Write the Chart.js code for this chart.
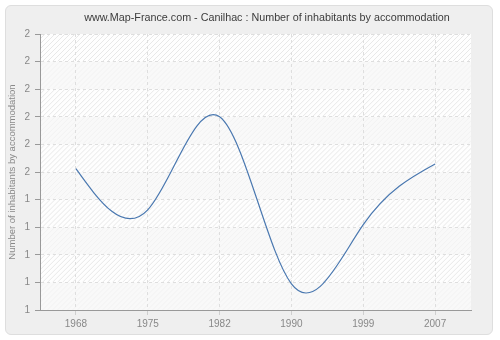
<!DOCTYPE html>
<html>
<head>
<meta charset="utf-8">
<script src="https://cdn.jsdelivr.net/npm/chart.js@4"></script>
<style>
  body { margin: 0; background: #fff; }
  #wrap { position: relative; width: 500px; height: 340px; }
  #panel { position: absolute; left: 5px; top: 5px; width: 486px; height: 328px;
    background: #efefef; border: 1px solid #dedede; border-radius: 6px; }
  #chart { position: absolute; left: 0; top: 0; }
</style>
</head>
<body>
<div id="wrap">
  <div id="panel"></div>
  <canvas id="chart" width="500" height="340"></canvas>
</div>
<script>
const years = ['1968', '1975', '1982', '1990', '1999', '2007']
const inhabitants = [1.512, 1.363, 1.70, 1.095, 1.309, 1.529]
const yMin = 1
const yMax = 2
const yStep = 0.1
const titleText = 'www.Map-France.com - Canilhac : Number of inhabitants by accommodation'

/* fond de la zone du graphique : bandes hachurées / unies */
const plotBackground = {
  id: 'plotBackground',
  beforeDraw(chart) {
    const { ctx, chartArea: a, scales } = chart
    ctx.save()
    ctx.fillStyle = '#fefefe'
    ctx.fillRect(a.left, a.top, a.right - a.left, a.bottom - a.top)
    const n = Math.round((yMax - yMin) / yStep)
    for (let i = 0; i < n; i++) {
      const y1 = scales.y.getPixelForValue(yMax - i * yStep)
      const y2 = scales.y.getPixelForValue(yMax - (i + 1) * yStep)
      ctx.save()
      ctx.beginPath()
      ctx.rect(a.left, y1, a.right - a.left, y2 - y1)
      ctx.clip()
      if (i % 2 === 1) {
        ctx.fillStyle = '#f9f9f9'
        ctx.fillRect(a.left, y1, a.right - a.left, y2 - y1)
      }
      ctx.strokeStyle = i % 2 === 0 ? '#e8e8e8' : '#f2f2f2'
      ctx.lineWidth = 1
      ctx.beginPath()
      const h = y2 - y1
      for (let x = a.left - h; x < a.right + h; x += 5) {
        ctx.moveTo(x, y2)
        ctx.lineTo(x + h, y1)
      }
      ctx.stroke()
      ctx.restore()
    }
    ctx.restore()
  }
}

/* spline naturelle : on remplace les points de contrôle calculés par Chart.js */
const naturalSpline = {
  id: 'naturalSpline',
  beforeDatasetsDraw(chart) {
    chart.data.datasets.forEach((ds, di) => {
      const meta = chart.getDatasetMeta(di)
      const line = meta.dataset
      const pts = meta.data
      const n = pts.length
      if (n < 3) return
      line.updateControlPoints(chart.chartArea, 'x')
      const h = []
      for (let i = 0; i < n - 1; i++) h.push(pts[i + 1].x - pts[i].x)
      // système tridiagonal pour les dérivées secondes
      const a = [], b = [], c = [], r = []
      for (let i = 0; i < n; i++) {
        if (i === 0 || i === n - 1) { a.push(0); b.push(1); c.push(0); r.push(0); continue }
        a.push(h[i - 1] / 6)
        b.push((h[i - 1] + h[i]) / 3)
        c.push(h[i] / 6)
        r.push((pts[i + 1].y - pts[i].y) / h[i] - (pts[i].y - pts[i - 1].y) / h[i - 1])
      }
      for (let i = 1; i < n; i++) {
        const m = a[i] / b[i - 1]
        b[i] -= m * c[i - 1]
        r[i] -= m * r[i - 1]
      }
      const M = new Array(n)
      M[n - 1] = r[n - 1] / b[n - 1]
      for (let i = n - 2; i >= 0; i--) M[i] = (r[i] - c[i] * M[i + 1]) / b[i]

      for (let i = 0; i < n - 1; i++) {
        const p0 = pts[i], p1 = pts[i + 1], hi = h[i]
        const s0 = (p1.y - p0.y) / hi - hi * (2 * M[i] + M[i + 1]) / 6
        const s1 = (p1.y - p0.y) / hi + hi * (M[i] + 2 * M[i + 1]) / 6
        p0.cp2x = p0.x + hi / 3
        p0.cp2y = p0.y + s0 * hi / 3
        p1.cp1x = p1.x - hi / 3
        p1.cp1y = p1.y - s1 * hi / 3
      }
      line._path = undefined
    })
  }
}

/* titre centré sur le panneau, comme l'original */
const chartTitle = {
  id: 'chartTitle',
  afterDraw(chart) {
    const { ctx } = chart
    ctx.save()
    ctx.font = '10.75px "Liberation Sans"'
    ctx.fillStyle = '#3c3c3c'
    ctx.textAlign = 'center'
    ctx.textBaseline = 'middle'
    ctx.fillText(titleText, 267, 18)
    ctx.restore()
  }
}

new Chart(document.querySelector('#chart'), {
  type: 'line',
  data: {
    labels: years,
    datasets: [{
      data: inhabitants,
      borderColor: '#4a78b0',
      borderWidth: 1.2,
      pointRadius: 0,
      tension: 0.4,
      fill: false,
    }]
  },
  options: {
    responsive: false,
    animation: false,
    layout: { padding: { left: 0, right: 29, top: 34, bottom: 0 } },
    plugins: {
      legend: { display: false },
      tooltip: { enabled: false },
      title: { display: false },
    },
    scales: {
      x: {
        offset: true,
        grid: { color: '#dedede', tickLength: 5, tickColor: '#cfcfcf', offset: false },
        border: { display: true, color: '#999', width: 1, dash: [3, 3] },
        ticks: { color: '#888', padding: 3, font: { family: 'Liberation Sans', size: 10 } },
        afterFit: s => { s.height = 30 },
      },
      y: {
        min: yMin,
        max: yMax,
        grid: { color: '#dedede', tickLength: 5, tickColor: '#999' },
        border: { display: true, color: '#999', width: 1, dash: [3, 3] },
        ticks: {
          stepSize: yStep,
          color: '#888',
          padding: 5,
          font: { family: 'Liberation Sans', size: 10 },
          callback: v => Math.round(v).toString(),
        },
        title: {
          display: true,
          text: 'Number of inhabitants by accommodation',
          color: '#888',
          font: { family: 'Liberation Sans', size: 9.5 },
          padding: { top: 7, bottom: 0 },
        },
        afterFit: s => { s.width = 40 },
      },
    },
  },
  plugins: [plotBackground, naturalSpline, chartTitle],
})
</script>
</body>
</html>
